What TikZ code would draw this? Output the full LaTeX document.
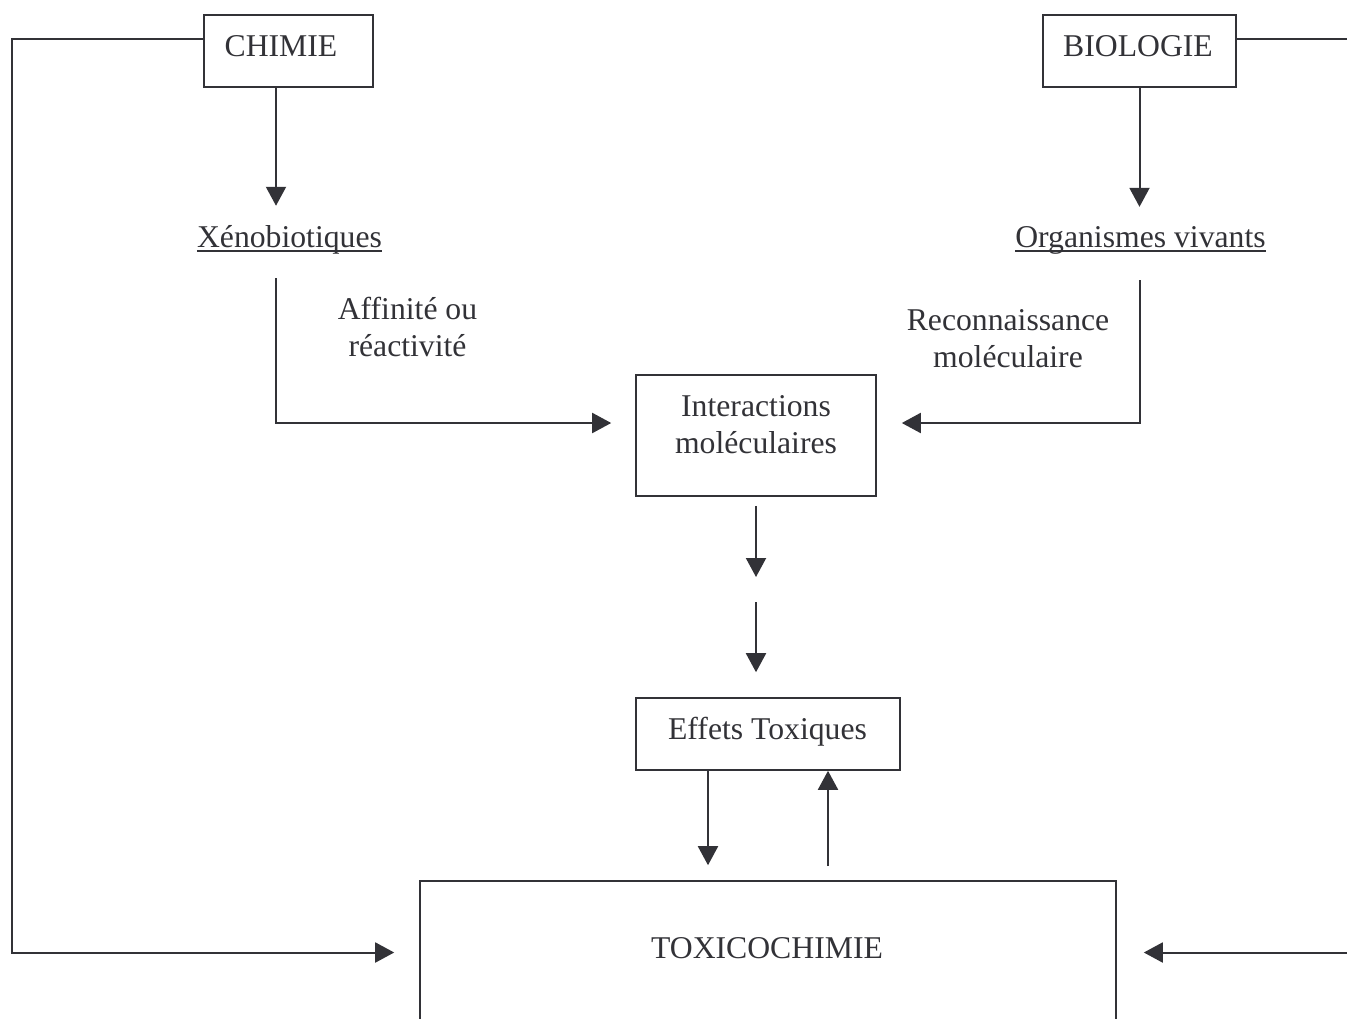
\documentclass[tikz,border=0pt]{standalone}
\usepackage{fontspec}
\setmainfont{Liberation Serif}
\usetikzlibrary{arrows.meta}
\definecolor{ink}{RGB}{50,50,55}
\tikzset{
  boxframe/.style={draw=ink, line width=1.6pt, inner sep=0pt},
  lbl/.style={inner sep=0pt, text=ink, align=center,
              font=\fontsize{31.7pt}{37pt}\selectfont},
  link/.style={draw=ink, line width=2pt},
  arr/.style={link, -{Triangle[length=19pt,width=20pt]}},
  uline/.style={draw=ink, line width=1.8pt}
}
\begin{document}
\begin{tikzpicture}[x=1pt,y=-1pt]
\useasboundingbox (0,0) rectangle (1347,1018);
\clip (0,0) rectangle (1347,1018);

% frames
\node[boxframe, minimum width=169pt, minimum height=72pt] (chimie) at (288.5,51) {};
\node[boxframe, minimum width=193pt, minimum height=72pt] (biologie) at (1139.5,51) {};
\node[boxframe, minimum width=240pt, minimum height=121pt] (inter) at (756,435.5) {};
\node[boxframe, minimum width=264pt, minimum height=72pt] (effets) at (768,734) {};
\node[boxframe, minimum width=696pt, minimum height=240pt] (toxico) at (768,1001) {};

% texts
\node[lbl, anchor=base] (chimieT) at (281,56) {CHIMIE};
\node[lbl, anchor=base] (biologieT) at (1138,56) {BIOLOGIE};
\node[lbl, anchor=base] (xeno) at (289.5,247) {Xénobiotiques};
\node[lbl, anchor=base] (orga) at (1140.5,247) {Organismes vivants};
\node[lbl] (affin) at (407.5,326.5) {Affinité ou\\réactivité};
\node[lbl] (recon) at (1008,338.5) {Reconnaissance\\moléculaire};
\node[lbl] (interT) at (756,424.5) {Interactions\\moléculaires};
\node[lbl, anchor=base] (effetsT) at (767.5,739) {Effets Toxiques};
\node[lbl, anchor=base] (toxicoT) at (767,958) {TOXICOCHIMIE};

% underlines
\draw[uline] ([yshift=-4pt]xeno.base west) -- ([yshift=-4pt]xeno.base east);
\draw[uline] ([yshift=-4pt]orga.base west) -- ([yshift=-4pt]orga.base east);

% routing points
\coordinate (lowL) at (12,952.5);
\coordinate (lowR) at (1380,952.5);
\coordinate (gapA) at (756,577);
\coordinate (gapB) at (756,602);

% connectors
\draw[arr, shorten >=25pt] ([yshift=12pt]chimie.west) -| (lowL) -- (toxico.west |- lowL);
\draw[arr, shorten >=27pt] ([yshift=12pt]biologie.east) -| (lowR) -- (toxico.east |- lowR);

\draw[arr, shorten >=19pt] ([xshift=-12.5pt]chimie.south) -- ([xshift=-12.5pt]chimie.south |- xeno.north);
\draw[arr, shorten >=19pt] (biologie.south) -- (biologie.south |- orga.north);

\draw[arr, shorten >=24pt] ([xshift=-13.5pt, yshift=-31pt]xeno.base) |- ([yshift=12.5pt]inter.west);
\draw[arr, shorten >=25pt] ([xshift=-0.5pt, yshift=-33pt]orga.base) |- ([yshift=12.5pt]inter.east);

\draw[arr, shorten <=9pt] (inter.south) -- (gapA);
\draw[arr, shorten >=25pt] (gapB) -- (gapB |- effets.north);

\draw[arr, shorten >=15pt] ([xshift=-60pt]effets.south) -- ([xshift=-60pt]toxico.north);
\draw[arr, shorten <=14pt] ([xshift=60pt]toxico.north) -- ([xshift=60pt]effets.south);
\end{tikzpicture}
\end{document}
